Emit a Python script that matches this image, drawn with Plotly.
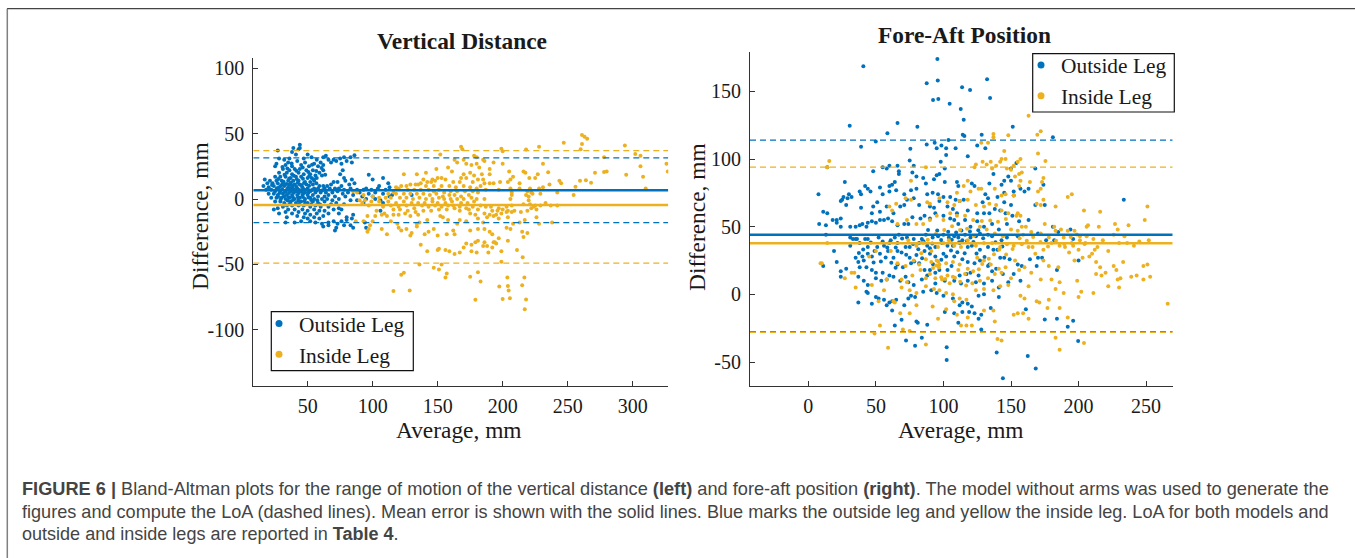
import plotly.graph_objects as go

BLUE = "#0072BD"
YELLOW = "#EDB120"

# Vertical Distance: (average, difference)
vd_outside = [
(44,41.5),(44,39),(39,39),(43,38),(27,37),(38,36),(41,34),(50,34),(86,33.5),(83,32),(78,32),(75,31),(70,30),(64,33),(62,32),(53,32),(47,31),(57,30),(66,30),(60,28),
(28,31),(32,30),(36,31),(42,29),(55,27),(48,28),(35,28),(26,27),(25,25),(33,26),(38,25),(45,26),(51,25),(58,25),(62,26),(68,28),(72,29),(76,27),(80,29),(84,28),
(31,23),(36,22),(40,23),(44,23),(49,22),(54,22),(59,20),(62,22),(77,22),(28,20),(34,20),(38,19),(43,20),(47,19),(52,19),(56,18),(61,18),(75,19),(97,18.5),(108,16),
(25,17),(29,17),(33,17),(37,16),(41,17),(45,17),(50,16),(53,16),(57,16),(78,16),(84,15),(100,15),(17,15),(21,14),(26,14),(30,14),(35,14),(39,14),(43,14),(48,13),(52,13),(55,14),(70,13),(73,13),(79,14),(86,12),
(19,12),(23,12),(27,12),(31,12),(36,11),(40,11),(44,11),(49,11),(54,11),(59,10),(62,10),(65,10),(68,11),(76,10),(82,11),(95,8),(105,10),(112,12),(113,9),
(16,10),(20,9),(24,10),(28,9),(32,10),(35,9),(38,9),(42,8),(46,9),(50,8),(55,8),(58,8),(63,8),(67,8),(71,8),(74,8),(78,7),(83,8),(88,7),(93,7),(99,7),(104,8),(110,7),
(18,7),(22,7),(25,6),(29,6),(33,6),(37,6),(41,6),(45,6),(48,5),(52,6),(56,5),(60,5),(64,5),(69,5),(73,6),(77,4),(81,5),(90,5),(97,4),(102,5),(108,4),(115,3),
(20,4),(24,4),(27,3),(31,4),(34,3),(38,3),(42,3),(46,3),(50,3),(54,3),(58,2),(63,2),(66,3),(71,2),(79,2),(85,3),(92,2),(100,2),(113,2),(130,3),
(22,1),(26,1),(30,1),(33,0),(36,1),(40,0),(44,1),(48,0),(52,1),(55,0),(61,0),(65,0),(69,-1),(74,0),(83,-1),(88,-1),(95,0),(102,0),(106,-1),
(25,-2),(29,-2),(32,-3),(37,-2),(41,-3),(45,-2),(50,-3),(54,-2),(58,-3),(63,-2),(68,-4),(72,-3),(78,-4),(93,-3),(108,-3),
(34,-5),(38,-5),(43,-5),(47,-5),(52,-6),(56,-5),(60,-6),(66,-6),(74,-7),(27,-7),(31,-6),(106,-9),(24,-8),(35,-8),(40,-8),(46,-8),(50,-9),(55,-8),(59,-9),(63,-9),(70,-8),(76,-8),
(28,-11),(33,-10),(38,-11),(43,-10),(48,-11),(52,-12),(57,-11),(62,-13),(66,-11),(74,-11),(85,-12),(34,-14),(42,-13),(47,-14),(50,-15),(55,-14),(59,-15),(84,-15),(80,-14),
(33,-18),(40,-18),(45,-17),(52,-17),(56,-18),(61,-19),(66,-18),(70,-17),(76,-17),(80,-16),(73,-19),(62,-21),(66,-20),(71,-24),(72,-22),(78,-20),(83,-20),(85,-22),(95,-22),(94,-18),
(30.6,24.5),(34.4,23.3),(37.7,27.2),(41.3,21.6),(46.2,24.1),(50.5,20.7),(53.4,26.1),(56.6,21.4),(60.7,23.7),(63.5,18.6),(39.4,17.8),(32.2,18.6),(27.4,15.3),(35.8,15.7),(41.7,15.2),(46.4,15.4),(51.2,17.6),(54.6,15.1),(31.5,13.2),(37.2,12.6),(42.4,12.4),(47.2,12.3),(22.6,10.8),(29.6,10.6),(33.8,11.4),(38.3,10.4),(41.2,9.6),(45.2,10.5),(51.1,10.2),(56.7,12.1),
(26.3,8.2),(30.4,7.6),(34.2,7.4),(36.8,8.2),(39.6,7.3),(43.6,6.8),(47.4,7.3),(53.3,6.9),(57.2,6.6),(61.5,6.7),(28.4,4.6),(32.6,5.4),(35.6,4.6),(39.4,4.8),(43.2,4.6),(46.7,4.4),(50.6,4.9),(27.3,1.7),(31.8,2.1),(35.4,1.4),(38.6,1.6),(42.6,1.4),(46.4,1.5),(50.8,1.2),(29.2,-0.6),(34.6,-1.1),(38.7,-0.8),(42.8,-1.2),(47.6,-1.5),(52.7,-0.7),(57.4,-0.9),(36.3,-3.7),(43.4,-3.9),(48.2,-3.4),(52.8,-4.1),(59.6,-4.2),
]
vd_inside = [
(247,43),(261,49),(263,47.7),(265,46),(261,42),(260,38),(294,41),(302,34.5),(306,33),(306,25),(308,17),(310,8),(326,27),(327,21),(295,18.6),(278,32),(278,20.7),(280,21),(271,20),(268,12.5),(264,14.3),(259.5,14),(256,9.4),(254.6,3),
(243.6,14),(245,12),(242,5),(236,11),(235,20.4),(231,27),(228,40),(218,37.8),(227,19),(225,16),(220.5,16),(216,21),(217.5,20),(213,12),(221,8),(222,5),(228,8),(231,9),(229,4),
(168,40),(169,38),(199,38.5),(200,36.5),(152,34),(178,33),(180,32),(163,30),(170,30),(185,30),(186,29),(165,28),(200,27),(172,27),(176,26),(158,24),(149,23),(182,24),(190,23),(193,28),(180,27),
(205,21),(206,15),(198,13),(204,13),(208,17),(190,19),(184,19),(170,19),(175,20),(161,21),(141,20),(134,19),(124,19),(168,16),(172,16),(178,18),(185,15),(146,15),(150,16),(153,16),(156,15),(139,15),(145,13),(148,14),(142,13),
(162,13),(167,13),(177,13),(181,15),(186,12),(190,12),(193,12),(135,11),(137,12),(133,11),(129,11),(126,10),(122,10),(118,9),(141,10),(147,10),(153,10),(159,10),(164,9),(170,10),(175,9),(180,8),(183,10),(197,7),(206,8),(213,8),(219,6),(223,4),
(120,8),(127,7),(132,7),(137,7),(143,7),(147,6),(151,7),(155,5),(160,6),(165,6),(171,6),(177,6),(181,5),(187,7),(207,5),(207,3),(218,3),(220,2),(118,4),(124,4),(129,4),(134,4),(139,4),(144,3),(149,4),(154,2),(159,3),(163,3),(168,2),(174,3),
(93,3),(112,4),(116,5),(88,5),(85,6),(100,2),(105,1),(110,1),(114,1),(121,1),(126,1),(131,0),(136,1),(141,0),(146,0),(151,1),(155,0),(160,0),(165,0),(170,0),(176,1),(180,0),(186,0),(206,0),(220,-1),(90,-1),(94,-1),(99,-2),(105,-2),(112,-2),(118,-3),(124,-2),(130,-3),(135,-3),(140,-3),(146,-2),(150,-3),(156,-3),(161,-2),(168,-3),(173,-3),(178,-2),
(92,-3),(97,-5),(108,-6),(114,-5),(120,-6),(126,-5),(132,-7),(138,-5),(143,-6),(148,-5),(153,-6),(158,-5),(162,-5),(167,-6),(172,-7),(177,-6),(183,-5),(187,-6),(191,-6),(197,-7),(203,-6),(207,-5),(216,-4),(221,-4),(225,-5),(229,-5),(233,-3),(237,-5),(242,-5),(222,-7),(226,-8),
(103,-9),(109,-11),(116,-8),(121,-8),(127,-9),(133,-10),(139,-9),(145,-9),(151,-8),(157,-8),(163,-7),(167,-9),(174,-8),(181,-8),(192,-9),(196,-9),(200,-8),(204,-9),(209,-9),(214,-10),(219,-9),(224,-6),(96,-13),(102,-13),(107,-12),(111,-13),(116,-12),(120,-12),(125,-11),(129,-13),(135,-12),(152,-13),(175,-11),(179,-12),(186,-11),(190,-12),(195,-12),(199,-11),(203,-10),(207,-10),
(87,-17),(93,-17),(98,-20),(100,-17),(114,-17),(119,-19),(134,-19),(136,-18),(142,-16),(154,-14),(158,-16),(167,-16),(172,-17),(181,-15),(188,-14),(193,-13),(197,-15),(204,-14),(208,-19),(213,-18),(217,-16),(228,-19),(226,-14),(238,-18),(185,-18),(165,-19),
(97,-23),(96,-25),(107,-23),(111,-27),(120,-22),(122,-24),(126,-23),(130,-26),(129,-28),(140,-27),(143,-25),(150,-28),(157,-27),(162,-24),(163,-27),(175,-24),(181,-23),(190,-25),(192,-27),(203,-22),(206,-23),(215,-25),(219,-26),(216,-29),(186,-23),(147,-23),(134,-21),
(137,-35),(142,-40),(151,-38),(150,-39),(156,-39),(159,-40),(163,-42),(167,-41),(170,-37),(172,-34),(176,-35),(179,-33),(181,-32),(186,-33),(193,-33),(195,-34),(185,-36),(176,-40),(180,-41),(189,-41),(192,-37),(194,-33),(197,-30),(199,-40),(204,-32),(211,-39),(188,-36),
(116,-70.4),(122,-58),(124,-56.4),(128.5,-70),(136,-50),(147,-52.5),(151,-54),(153,-50),(156,-60),(157,-57),(175,-59.5),(181,-56),(183,-63),(179,-77),(197.4,-67),(199,-48),(200,-76.5),(203.6,-60),(204,-66.6),(204.6,-70),(205.6,-75.8),(215.4,-44.6),(216.7,-60),(215,-66),(218,-76.8),(217,-84.4),
]

# Fore-Aft Position: (average, difference)
fa_outside = [
(40.7,168.5),(95.5,173.9),(95.8,158),(87.6,156),(92.3,143.6),(96.2,144.3),(104.6,140.9),(113.8,153),(119.7,151),(132.3,158.9),(134.5,145),(112.8,137),(115,129),(66,126.6),(30.6,124.6),(80.7,123.9),(151.3,123.9),(58.5,119),(114.3,118),(115.5,117),(128.3,118),(181,116),(49.9,113),(103.7,114),(39,109),(75.5,107.6),(87.6,110.8),(93.5,112),(95,108),(98.5,110),(102,108),(109,108),(125,110),(131,108),
(75,99),(78,95),(102,103),(98,98),(101,93),(118,102),(14,94),(55,94),(58,93),(60,95),(66,95),(67,91),(48,91),(67,89),(77,90),(80,87),(85,86),(93,85),(95,88),(97,89),(148,87),(150,84),(150,93),(154,97),(168,93),(101,83),(110,83),(111,80),(121,82),(123,80),(134,82),(137,89),(143,81),(145,84),(174,81),
(7.5,74),(27,83),(64,83),(62,81),(60,80),(53,79),(42,80),(44,78),(46,76),(60,76),(55,74),(65,77),(38,76),(39,74),(30,74),(32,72),(25,70),(26,72),(29,71),(24,69),(76,77),(80,78),(71,74),(73,70),(78,71),(87,82),(88,74),(92,75),(96,74),(100,72),(105,72),(109,70),(112,69),(115,70),(129,68),(131,74),(133,71),(140,72),(145,75),(152,73),(152,76),(157,78),(160,76),(145,68),(150,66),(168,66),(175,66),(233.5,70),
(28,66),(39,64),(48,65),(51,68),(47,60),(58,65),(53,61),(63,60),(68,65),(71,66),(82,66),(90,65),(93,64),(97,69),(103,65),(107,63),(110,60),(118,62),(125,60),(130,60),(134,60),(138,63),(142,62),(146,60),(156,54),(163,55),(163,78),
(11,61),(14,60),(8,52),(13,51),(18,55),(21,55),(24,56),(21,53),(24,50),(31,50),(35,50),(38,51),(40,52),(43,50),(44,53),(47,54),(50,53),(53,55),(56,55),(59,56),(62,54),(66,51),(71,52),(74,52),(77,57),(83,56),(86,58),(90,56),(94,60),(100,58),(105,56),(108,55),(111,52),(116,55),(120,50),(125,54),(130,50),(136,52),(141,48),(147,52),(151,58),(181,50),(194,48),(185,46),(170,45),
(13,44),(31,42),(33,41),(36,41),(42,41),(44,41),(52,42),(55,39),(61,40),(64,42),(67,44),(73,42),(78,41),(84,41),(87,44),(92,42),(96,43),(100,44),(104,42),(108,43),(111,42),(114,40),(116,44),(120,42),(124,43),(127,45),(133,44),(136,43),(143,40),(147,42),(155,43),(176,40),(182,40),(196,41),
(31,36),(35,41),(38,38),(44,35),(49,32),(51,35),(56,36),(60,38),(66,38),(72,35),(75,35),(82,38),(88,36),(90,34),(94,35),(99,38),(103,36),(107,36),(112,38),(118,35),(121,36),(127,33),(133,35),(137,33),(140,33),
(19,32),(35,27),(37,24),(40,28),(41,25),(44,30),(47,28),(53,30),(59,32),(63,27),(66,32),(69,31),(75,27),(80,29),(86,32),(90,30),(94,28),(100,30),(102,28),(108,28),(114,26),(118,24),(123,23),(127,25),(134,22),(142,27),(145,27),(149,26),(155,22),(158,21),(164,26),(170,27),(173,27),(200,25),
(11,21),(21,24),(24,17),(28,19),(38,20),(43,20),(47,18),(50,16),(55,16),(60,14),(66,22),(70,20),(76,23),(82,23),(86,18),(90,18),(94,16),(97,18),(103,18),(106,21),(112,14),(117,15),(120,16),(126,14),(133,21),(136,17),(139,19),(144,15),(152,15),(157,10),(169,21),(184,18),
(24,13),(37,13),(41,10),(44,7),(50,12),(54,10),(58,11),(63,13),(68,10),(72,13),(74,9),(78,7),(84,11),(88,14),(94,8),(101,10),(108,10),(113,8),(118,10),(124,9),(130,8),(136,10),(141,5),(148,9),
(37,-6),(43,2),(44,1),(47,-7),(50,-2),(52,-3),(56,-4),(58,-8),(60,-6),(62,-5),(65,-4),(71,-8),(74,-3),(76,-1),(79,-2),(85,2),(91,3),(95,1),(100,-1),(107,-3),(112,-8),(114,-6),(118,-7),(121,-9),(126,-1),(130,0),(141,-2),(135,-10),(161,-11),
(62,-12),(64,-23),(69,-18.7),(80,-20),(81,-21),(88,-22.5),(101,-13),(108,-14),(111,-21),(114,-13),(119,-13),(123,-14),(126,-18),(128,-15),(128,-26),(175,-18.5),(184,-18),(192,-24),(196,-19.5),
(199.7,-34.5),(72.3,-34),(79,-38),(84,-32),(102.4,-39),(102.4,-48.5),(139.4,-43),(162.4,-45.6),(168.3,-54.7),(144,-62),
(103.5,46.3),(106.2,40.4),(109.4,45.7),(111.6,38.6),(113.3,47.2),(117.4,39.4),(119.6,46.5),(122.2,38.7),(125.8,47.3),(129.4,41.5),(98.3,40.2),(95.4,47.2),(91.7,37.6),(88.6,47.5),(85.2,39.3),(81.4,33.4),(77.5,37.2),(69.4,41.2),(64.7,34.7),(58.4,34.6),(46.2,38.4),(40.6,33.2),(37.4,30.6),(48.3,23.5),(53.7,24.2),(57.2,27.2),(61.4,23.4),(64.6,19.6),(72.4,29.3),(78.4,24.3),(84.2,26.7),(92.3,22.3),(98.4,25.5),(105.6,32.5),(110.3,31.2),(115.7,30.3),(124.5,30.2),(130.4,27.6),(138.5,38.5),(143.6,35.4),
]
fa_inside = [
(163,132),(172,120.5),(169.5,118),(137,118.5),(137,116),(148,117.5),(128,112),(133,112),(170,104),(145,106),(14,94),(15.5,98.5),(129,98),(135,98),(142,98),(143,100),(146,100),(150,92),(157,100),(155,98),(175.5,98.5),(124,96),(123,94),(132,96),(136,93),(139,95),(147,93),(152,95),(87,94),(156,89),(158,90),(153,87),(157,84),
(118,84),(76,84),(110,75),(115,80),(120,76),(126,78),(138,78),(143,73),(146,74),(152,73),(156,80),(164,83),(174,86),(173,83),(172,78),(170,76),(174,70),(169,67),(172,66),(192,72),(195,74),(183,65),(204,62),(216,61),(251,65),(249,55),(237,51),(227,52),(215,50),(207,51),(206,50),
(65,67),(60,65),(62,62),(72,71),(76,70),(88,68),(90,67),(97,71),(103,68),(108,66),(112,69),(118,70),(124,66),(128,78),(130,65),(134,67),(139,66),(143,62),(148,60),(155,60),(157,58),(154,58),(158,50),(161,50),(175,52),(182,50),(187,48),(192,47),(197,47),(201,43),(206,43),(229,48),
(66,52),(73,55),(80,52),(85,52),(90,55),(95,58),(100,55),(105,60),(110,58),(116,58),(122,55),(127,50),(132,48),(138,45),(144,43),(150,48),(155,47),(159,44),(165,46),(172,45),(178,42),(183,47),(189,42),(195,38),(201,40),(211,41),(218,40),(226,44),(234,43),(245,39),(252,40),
(14,38),(50,32),(61,32),(74,40),(80,36),(85,38),(91,32),(96,35),(100,38),(104,40),(108,36),(113,35),(118,40),(124,36),(130,38),(136,38),(142,35),(147,37),(152,36),(158,37),(163,35),(166,35),(174,33),(180,38),(186,36),(190,35),(196,36),(200,33),(205,38),(214,35),(222,32),(230,38),(236,38),(241,36),
(9,23),(10,23),(45,28),(66,23),(72,21),(78,25),(82,22),(87,26),(91,24),(95,25),(97,22),(102,23),(107,24),(112,22),(118,19),(125,27),(130,25),(135,22),(141,19),(146,20),(153,25),(160,20),(168,30),(174,25),(178,21),(185,20),(193,31),(197,25),(203,27),(208,28),(210,30),(212,33),(213,24),(216,20),(220,16),(226,21),(228,18),(233,24),(248,21),(251,22),
(27,12),(32,16),(34,16),(35,5),(47,7),(58,11),(63,-5),(68,-14),(69,11),(73,9),(77,14),(83,18),(87,12),(90,15),(94,12),(99,11),(103,14),(107,13),(111,18),(116,15),(122,17),(127,10),(133,12),(138,15),(143,16),(150,12),(156,18),(165,16),(172,11),(180,11),(186,9),(199,10),(213,15),(217,14),(229,11),(243,14),(248,11),(253,13),(239,13),(231,12),
(52,-5),(56,3),(64,-6),(69,5),(75,3),(80,1),(87,6),(93,4),(97,3),(102,1),(107,0),(112,-3),(117,-4),(124,3),(130,4),(137,3),(142,6),(148,7),(157,-1),(160,-3),(163,6),(171,-6),(178,-4),(183,4),(189,1),(200,-2),(202,2),(211,1),(222,6),(230,5),(266,-7),
(53,-23),(49,-29),(59,-39.5),(70,-26),(75,-14),(80,-8),(92,-9),(96,-18),(102,-11),(108,-5),(113,-23),(117,-23),(121,-23),(130,-12),(137,-12),(138,-20),(140,-33),(143,-34),(152,-15),(155,-14),(159,-14),(163,-18),(169,-5),(177,-10),(186,-10),(192,-17),(183,-32),(186,-41),(204,-36),(87,-37),(75,-27),(110,-15),(118,-17),
(92.3,19.5),(94.6,21.4),(96.2,24.3),(96.7,19.8),(98.4,12.6),(101.3,11.4),(104.6,8.3),(108.5,12.3),(112.4,9.4),(116.8,6.5),(121.4,8.3),(126.2,18.6),(128.7,22.5),(133.6,26.4),(137.4,29.6),(141.3,33.2),(146.4,29.4),(151.2,33.5),(156.4,41.4),(161.7,39.6),(166.4,42.3),(171.8,38.7),(177.4,35.4),(183.3,39.6),(189.4,37.2),(194.2,42.3),(198.7,44.2),(204.5,37.2),(112.3,47.5),(117.5,48.4),(122.6,43.3),(128.4,54.2),(134.6,54.5),(140.4,53.6),(146.2,55.7),(100.6,47.5),(106.4,50.3),(94.4,44.6),(88.4,40.3),(83.6,30.4),
]

vd_lines = {"out_mean": 6.7, "in_mean": -4.6, "out_lo": -18, "out_hi": 31.5, "in_lo": -49, "in_hi": 37}
fa_lines = {"out_mean": 44, "in_mean": 37.8, "out_lo": -27.5, "out_hi": 114, "in_lo": -28, "in_hi": 94}

vd_range_x = [8.2, 327.4]
vd_range_y = [-143, 107.6]
fa_range_x = [-43.2, 269.7]
fa_range_y = [-67.7, 179.3]

vd_ticks_x = [50, 100, 150, 200, 250, 300]
vd_ticks_y = [-100, -50, 0, 50, 100]
vd_labels_y = ["-100", "-50", "0", "50", "100"]
fa_ticks_x = [0, 50, 100, 150, 200, 250]
fa_ticks_y = [-50, 0, 50, 100, 150]
fa_labels_y = ["-50", "0", "50", "100", "150"]

caption_lines = [
    "<b>FIGURE 6 |</b> Bland-Altman plots for the range of motion of the vertical distance <b>(left)</b> and fore-aft position <b>(right)</b>. The model without arms was used to generate the",
    "figures and compute the LoA (dashed lines). Mean error is shown with the solid lines. Blue marks the outside leg and yellow the inside leg. LoA for both models and",
    "outside and inside legs are reported in <b>Table 4</b>.",
]

W, H = 1355, 558
SERIF = "Liberation Serif"
TXT = "#1a1a1a"

def xfrac(px):
    return px / W

def yfrac(py):
    return 1 - py / H

fig = go.Figure()

def add_panel(xa, ya, outside, inside, lines, rng, legend):
    for pts, col, name in ((outside, BLUE, "Outside Leg"), (inside, YELLOW, "Inside Leg")):
        fig.add_trace(go.Scatter(
            x=[p[0] for p in pts], y=[p[1] for p in pts], mode="markers", name=name,
            marker=dict(color=col, size=4, line=dict(width=0)),
            xaxis=xa, yaxis=ya, showlegend=False))
    for key, col, dash, w in (
        ("out_hi", BLUE, "dash", 1.3), ("out_lo", BLUE, "dash", 1.3),
        ("in_hi", YELLOW, "dash", 1.3), ("in_lo", YELLOW, "dash", 1.3),
        ("out_mean", BLUE, "solid", 2.6), ("in_mean", YELLOW, "solid", 2.6)):
        fig.add_trace(go.Scatter(
            x=rng, y=[lines[key], lines[key]], mode="lines",
            line=dict(color=col, width=w, dash="6px,4px" if dash == "dash" else "solid"),
            xaxis=xa, yaxis=ya, showlegend=False, hoverinfo="skip"))
    # legend keys: same names and colours, larger dot than the data marks
    for col, name in ((BLUE, "Outside Leg"), (YELLOW, "Inside Leg")):
        fig.add_trace(go.Scatter(
            x=[None], y=[None], mode="markers", name=name,
            marker=dict(color=col, size=7), xaxis=xa, yaxis=ya,
            legend=legend, showlegend=True))

add_panel("x", "y", vd_outside, vd_inside, vd_lines, vd_range_x, "legend")
add_panel("x2", "y2", fa_outside, fa_inside, fa_lines, fa_range_x, "legend2")

axis_common = dict(showgrid=False, zeroline=False, showline=True, linecolor="#333333", linewidth=1.2,
                   ticks="inside", ticklen=5, tickwidth=1, tickcolor="#333333",
                   tickfont=dict(family=SERIF, size=20, color=TXT), mirror=False)

legend_common = dict(bgcolor="rgba(0,0,0,0)", borderwidth=0,
                     font=dict(family=SERIF, size=21.4, color=TXT),
                     xanchor="left", yanchor="top", itemsizing="trace",
                     tracegroupgap=0, itemwidth=30)

annotations = []
for txt, px, py in (("Vertical Distance", 462, 41), ("Fore-Aft Position", 964, 35)):
    annotations.append(dict(text=f"<b>{txt}</b>", xref="paper", yref="paper", x=xfrac(px), y=yfrac(py),
                            xanchor="center", yanchor="middle", showarrow=False,
                            font=dict(family=SERIF, size=23.4, color=TXT)))
for px, py in ((200, 216), (697, 217)):
    annotations.append(dict(text="Difference, mm", xref="paper", yref="paper", x=xfrac(px), y=yfrac(py),
                            xanchor="center", yanchor="middle", showarrow=False, textangle=-90,
                            font=dict(family=SERIF, size=23.4, color=TXT)))
for px, py in ((458.5, 429.5), (961, 429.5)):
    annotations.append(dict(text="Average, mm", xref="paper", yref="paper", x=xfrac(px), y=yfrac(py),
                            xanchor="center", yanchor="middle", showarrow=False,
                            font=dict(family=SERIF, size=23.4, color=TXT)))
for txt, py, size in zip(caption_lines, (489, 512, 534), (18.2, 18.1, 18.05)):
    annotations.append(dict(text=txt, xref="paper", yref="paper", x=xfrac(20), y=yfrac(py),
                            xanchor="left", yanchor="middle", showarrow=False, align="left",
                            font=dict(family="Liberation Sans", size=size, color="#444444")))

def box(x0, y0, x1, y1):
    return dict(type="rect", xref="paper", yref="paper", x0=xfrac(x0), x1=xfrac(x1), y0=yfrac(y0), y1=yfrac(y1),
                fillcolor="white", line=dict(color="#111111", width=1.2), layer="above")

fig.update_layout(
    width=W, height=H, autosize=False, margin=dict(l=0, r=0, t=0, b=0),
    paper_bgcolor="white", plot_bgcolor="white", hovermode=False,
    xaxis=dict(domain=[xfrac(253.3), xfrac(668.3)], range=vd_range_x, tickvals=vd_ticks_x, anchor="y",
               ticklabelstandoff=2, **axis_common),
    yaxis=dict(domain=[yfrac(386), yfrac(58.3)], range=vd_range_y, tickvals=vd_ticks_y, ticktext=vd_labels_y,
               anchor="x", ticklabelstandoff=4, **axis_common),
    xaxis2=dict(domain=[xfrac(750), xfrac(1172.7)], range=fa_range_x, tickvals=fa_ticks_x, anchor="y2",
                ticklabelstandoff=2, **axis_common),
    yaxis2=dict(domain=[yfrac(386), yfrac(51.7)], range=fa_range_y, tickvals=fa_ticks_y, ticktext=fa_labels_y,
                anchor="x2", ticklabelstandoff=4, **axis_common),
    legend=dict(x=xfrac(259), y=yfrac(303), **legend_common),
    legend2=dict(x=xfrac(1021), y=yfrac(44.5), **legend_common),
    annotations=annotations,
    shapes=[dict(type="line", xref="paper", yref="paper", x0=xfrac(7), x1=1, y0=yfrac(8.7), y1=yfrac(8.7),
                 line=dict(color="#444444", width=1.2)),
            dict(type="line", xref="paper", yref="paper", x0=xfrac(7.3), x1=xfrac(7.3), y0=yfrac(8.7), y1=0,
                 line=dict(color="#808080", width=1.5)),
            box(271.3, 311.7, 413.3, 370.7),
            box(1032.7, 53.7, 1174.3, 112)],
)

fig.write_html("out.html", config=dict(displayModeBar=False),
               post_script="document.body.style.margin='0';")
